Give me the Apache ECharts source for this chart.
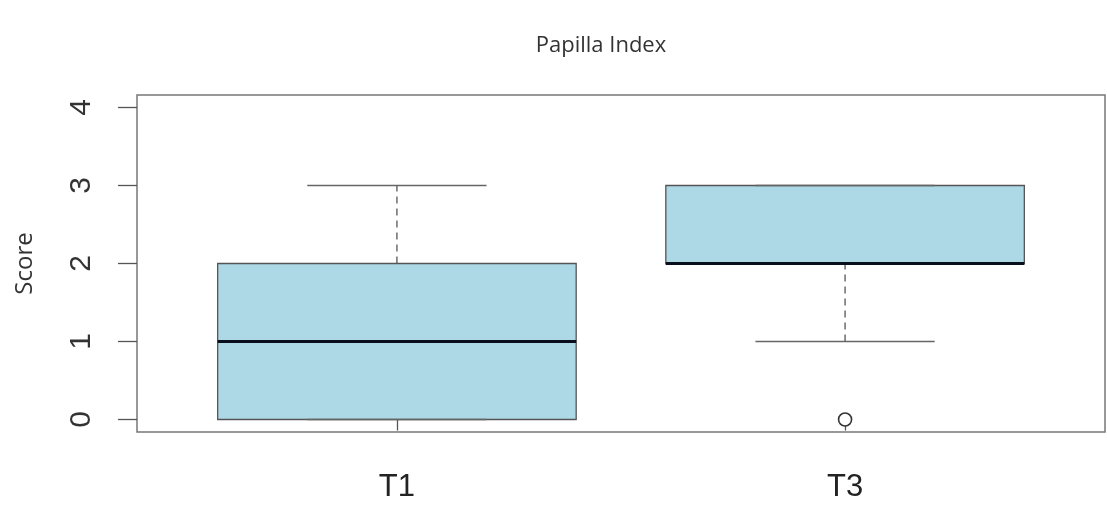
<!DOCTYPE html>
<html>
<head>
<meta charset="utf-8">
<script src="https://cdn.jsdelivr.net/npm/echarts@6/dist/echarts.min.js"></script>
<style>
html,body{margin:0;padding:0;background:#fff;}
#chart{width:1107px;height:515px;}
</style>
</head>
<body>
<div id="chart"></div>
<script>
// ---- data ----
const categories = ['T1', 'T3'];
const whiskerLow = [0, 1];
const q1 = [0, 2];
const median = [1, 2];
const q3 = [2, 3];
const whiskerHigh = [3, 3];
const outlierPos = [2];   // category position (1-based)
const outlierVal = [0];
const yTicks = [0, 1, 2, 3, 4];
const xTicks = [1, 2];

const boxData = categories.map((c, i) => [i + 1, whiskerLow[i], q1[i], median[i], q3[i], whiskerHigh[i]]);
const outlierData = outlierPos.map((p, i) => [p, outlierVal[i]]);

const chart = echarts.init(document.getElementById('chart'));

function renderBox(params, api) {
  const x = api.value(0);
  const lo = api.value(1), a = api.value(2), m = api.value(3), b = api.value(4), hi = api.value(5);
  const half = 0.4, capHalf = 0.2;
  const pL = api.coord([x - half, a]);
  const pR = api.coord([x + half, b]);
  const c = api.coord([x, m]);
  const cLo = api.coord([x, lo]);
  const cHi = api.coord([x, hi]);
  const cA = api.coord([x, a]);
  const cB = api.coord([x, b]);
  const capL = api.coord([x - capHalf, lo])[0];
  const capR = api.coord([x + capHalf, lo])[0];
  const mL = api.coord([x - half, m])[0];
  const mR = api.coord([x + half, m])[0];
  const dash = {stroke: '#555', lineWidth: 1.3, lineDash: [7, 5]};
  const cap = {stroke: '#666', lineWidth: 1.5};
  return {
    type: 'group',
    children: [
      {type: 'line', shape: {x1: cLo[0], y1: cLo[1], x2: cA[0], y2: cA[1]}, style: dash},
      {type: 'line', shape: {x1: cB[0], y1: cB[1], x2: cHi[0], y2: cHi[1]}, style: dash},
      {type: 'rect', shape: {x: pL[0], y: pR[1], width: pR[0] - pL[0], height: pL[1] - pR[1]},
        style: {fill: '#add8e6', stroke: '#555', lineWidth: 1.3}},
      {type: 'line', shape: {x1: capL, y1: cLo[1], x2: capR, y2: cLo[1]}, style: cap},
      {type: 'line', shape: {x1: capL, y1: cHi[1], x2: capR, y2: cHi[1]}, style: cap},
      {type: 'line', shape: {x1: mL, y1: c[1], x2: mR, y2: c[1]}, style: {stroke: '#0a0f1e', lineWidth: 3.2}}
    ]
  };
}

chart.setOption({
  animation: false,
  backgroundColor: '#fff',
  title: {
    text: 'Papilla Index',
    left: 596, top: 30, textAlign: 'center',
    textStyle: {fontFamily: 'Open Sans', fontSize: 22, fontWeight: 'normal', color: '#333'}
  },
  grid: {
    left: 137, right: 2, top: 95, bottom: 83,
    show: true, borderColor: '#777', borderWidth: 1.5, backgroundColor: 'transparent'
  },
  xAxis: {
    type: 'value', min: 0.42, max: 2.58,
    splitLine: {show: false},
    axisLine: {show: false},
    axisTick: {show: true, customValues: xTicks, length: 11, inside: false, lineStyle: {color: '#555', width: 1.3}},
    axisLabel: {
      customValues: xTicks,
      formatter: v => categories[Math.round(v) - 1] || '',
      fontFamily: 'Liberation Sans', fontSize: 31, color: '#222', margin: 40
    }
  },
  yAxis: {
    type: 'value', min: -0.16, max: 4.16,
    name: 'Score', nameLocation: 'middle', nameGap: 100, nameRotate: 90,
    nameTextStyle: {fontFamily: 'Open Sans', fontSize: 24, color: '#333'},
    splitLine: {show: false},
    axisLine: {show: false},
    axisTick: {show: true, customValues: yTicks, length: 19, lineStyle: {color: '#555', width: 1.3}},
    axisLabel: {
      customValues: yTicks, rotate: 90,
      fontFamily: 'Liberation Sans', fontSize: 30, color: '#333', margin: 40
    }
  },
  series: [
    {
      type: 'custom',
      renderItem: renderBox,
      encode: {x: 0, y: [1, 2, 3, 4, 5]},
      data: boxData,
      z: 2
    },
    {
      type: 'scatter',
      data: outlierData,
      symbol: 'circle', symbolSize: 13,
      clip: false,
      itemStyle: {color: '#ffffff', borderColor: '#333333', borderWidth: 1.6, opacity: 1},
      z: 5
    }
  ]
});
</script>
</body>
</html>
